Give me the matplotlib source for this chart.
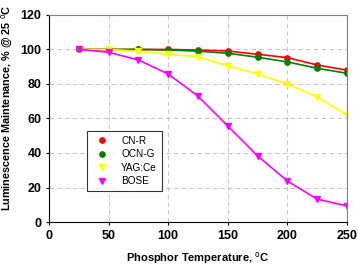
import matplotlib

matplotlib.use("Agg")

import matplotlib.pyplot as plt

plt.rcParams["font.family"] = ["Liberation Sans", "DejaVu Sans"]

temperature = [25, 50, 75, 100, 125, 150, 175, 200, 225, 250]
cn_r = [100, 100, 100, 100, 99.7, 99.1, 97.2, 95.3, 91.0, 88.0]
ocn_g = [100, 100, 100, 99.7, 99.0, 97.8, 95.5, 92.8, 89.1, 86.2]
yag_ce = [100, 100, 99.0, 97.2, 95.8, 90.6, 85.8, 80.0, 72.5, 62.0]
bose = [100, 98.4, 93.9, 85.8, 73.0, 55.7, 38.4, 23.8, 13.3, 9.3]

series = [
    ("CN-R", cn_r, "#ff0000", "o"),
    ("OCN-G", ocn_g, "#008000", "o"),
    ("YAG:Ce", yag_ce, "#ffff00", "v"),
    ("BOSE", bose, "#ff00ff", "v"),
]

fig = plt.figure(figsize=(3.58, 2.67), dpi=100)
ax = fig.add_axes([0.137, 0.1685, 0.832, 0.7755])

for label, values, color, marker in series:
    ax.plot(temperature, values, color=color, linewidth=1.2, marker=marker,
            markersize=3.8, label=label)

ax.set_xlim(0, 250)
ax.set_ylim(0, 120)
ax.set_xticks(range(0, 251, 50))
ax.set_yticks(range(0, 121, 20))
ax.grid(True, color="#c8c8c8", linestyle=(0, (4, 3)), linewidth=0.8)
ax.set_axisbelow(True)
for side in ["top", "right"]:
    ax.spines[side].set_color("#808080")
for side in ["left", "bottom"]:
    ax.spines[side].set_color("#000000")
ax.tick_params(axis="both", labelsize=9, length=2, width=0.8)
for lbl in ax.get_xticklabels() + ax.get_yticklabels():
    lbl.set_fontweight("bold")

ax.set_xlabel("Phosphor Temperature, $^{\\mathrm{o}}$C", fontsize=8,
              fontweight="bold", labelpad=6)
ax.set_ylabel("Luminescence Maintenance, % @ 25 $^{\\mathrm{o}}$C", fontsize=7.8,
              fontweight="bold")
ax.yaxis.set_label_coords(-0.115, 0.55)

handles = [
    plt.Line2D([], [], linestyle="none", marker=m, color=c, markersize=3.8)
    for _, _, c, m in series
]
leg = ax.legend(handles, [s[0] for s in series], loc="upper left",
                bbox_to_anchor=(0.1275, 0.44), fontsize=7.2, frameon=True,
                fancybox=False, edgecolor="#000000", handlelength=2.0,
                handletextpad=0.9, borderpad=0.5, labelspacing=0.35,
                borderaxespad=0)
leg.get_frame().set_linewidth(0.8)

fig.savefig("out.png", dpi=100, facecolor="white")
